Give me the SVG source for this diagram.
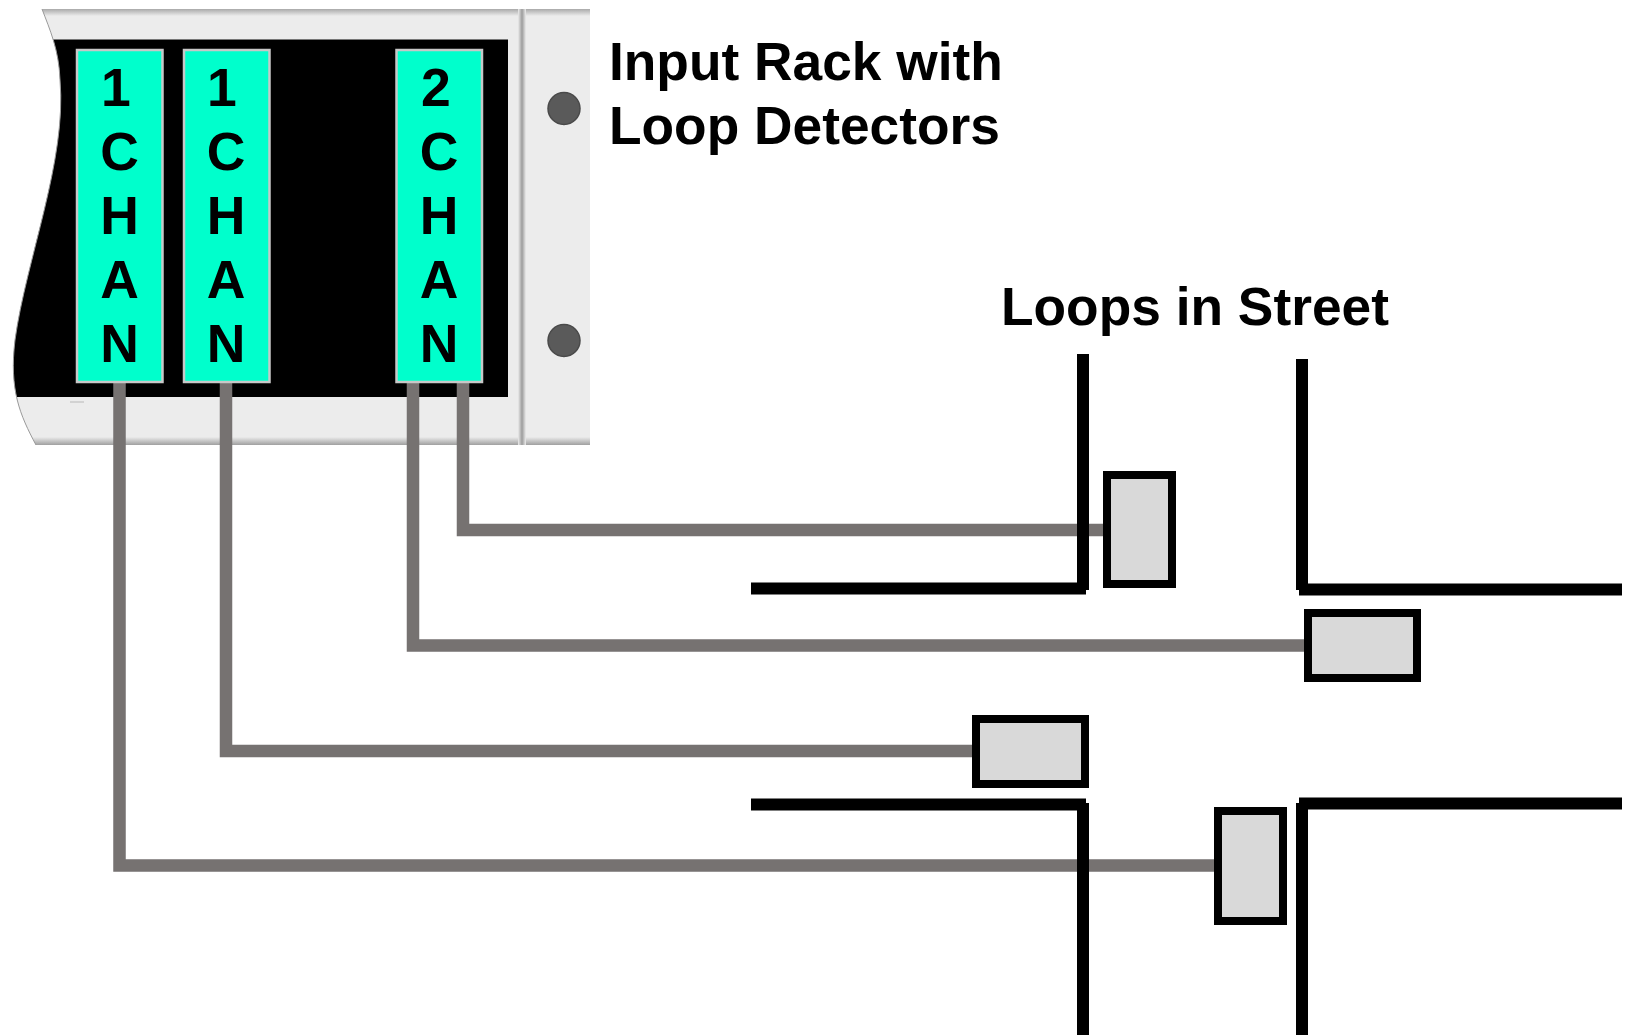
<svg xmlns="http://www.w3.org/2000/svg" width="1628" height="1035" viewBox="0 0 1628 1035">
<style>
.mod{fill:#00ffcc;stroke:#c8c8c8;stroke-width:2.500}
.mt{font:bold 53.500px "Liberation Sans",Arial,sans-serif;fill:#000;text-anchor:middle}
.lab{font:bold 53.300px "Liberation Sans",Arial,sans-serif;fill:#000}
.wire{fill:none;stroke:#767271;stroke-width:12.500}
.street{fill:none;stroke:#000;stroke-width:12}
.loop{fill:#d9d9d9;stroke:#000;stroke-width:8}
.screw{fill:#5a5a5a;stroke:#4a4a4a;stroke-width:1.500}
</style>
<defs>
<clipPath id="rackclip"><path d="M42,9 C50,30 59,50 60,80 C67,160 26,260 15,340 C9,390 20,415 36,445 L590,445 L590,9 Z"/></clipPath>
<linearGradient id="band" x1="0" y1="0" x2="0" y2="1"><stop offset="0" stop-color="#a0a0a0"/><stop offset="1" stop-color="#ececec"/></linearGradient>
<linearGradient id="bandb" x1="0" y1="1" x2="0" y2="0"><stop offset="0" stop-color="#a0a0a0"/><stop offset="1" stop-color="#ececec"/></linearGradient>
<linearGradient id="div" x1="0" y1="0" x2="1" y2="0"><stop offset="0" stop-color="#ececec"/><stop offset="0.500" stop-color="#9c9c9c"/><stop offset="1" stop-color="#ececec"/></linearGradient>
</defs>
<rect width="1628" height="1035" fill="#fff"/>
<g id="rack">
<g clip-path="url(#rackclip)">
<rect x="0" y="9" width="590" height="436" fill="#ececec"/>
<rect x="0" y="8" width="590" height="8" fill="url(#band)"/>
<rect x="0" y="437" width="590" height="8" fill="url(#bandb)"/>
<rect x="0" y="39.500" width="508" height="357.500" fill="#000"/>
<rect x="70" y="401" width="14" height="2" fill="#d2d2d2"/>
</g>
<path d="M42,9 C50,30 59,50 60,80 C67,160 26,260 15,340 C9,390 20,415 36,445" fill="none" stroke="#9a9a9a" stroke-width="1"/>
<rect x="518" y="9" width="8" height="436" fill="url(#div)"/>
<ellipse class="screw" cx="564" cy="108.500" rx="16" ry="16"/>
<ellipse class="screw" cx="564" cy="340.500" rx="16" ry="16"/>
</g>
<g id="connectors">
<path class="wire" d="M119.500,382 V865.500 H1216"/>
<path class="wire" d="M226,382 V751 H974"/>
<path class="wire" d="M413,382 V645.500 H1306"/>
<path class="wire" d="M463,382 V530 H1105"/>
</g>
<g id="module1"><rect class="mod" x="77" y="50" width="85.500" height="332"/>
<text class="mt" x="116" y="106">1</text><text class="mt" x="119.500" y="169.500">C</text><text class="mt" x="119.500" y="233.500">H</text><text class="mt" x="119.500" y="297.500">A</text><text class="mt" x="119.500" y="361.500">N</text></g>
<g id="module2"><rect class="mod" x="184" y="50" width="85.500" height="332"/>
<text class="mt" x="222" y="106">1</text><text class="mt" x="226" y="169.500">C</text><text class="mt" x="226" y="233.500">H</text><text class="mt" x="226" y="297.500">A</text><text class="mt" x="226" y="361.500">N</text></g>
<g id="module3"><rect class="mod" x="396.500" y="50" width="85.500" height="332"/>
<text class="mt" x="436" y="106">2</text><text class="mt" x="439" y="169.500">C</text><text class="mt" x="439" y="233.500">H</text><text class="mt" x="439" y="297.500">A</text><text class="mt" x="439" y="361.500">N</text></g>
<g id="label-rack"><text class="lab" x="609" y="80">Input Rack with</text><text class="lab" x="609" y="143.500">Loop Detectors</text></g>
<g id="label-street"><text class="lab" x="1001" y="325">Loops in Street</text></g>
<g id="street">
<path class="street" d="M1083,354 V590"/>
<path class="street" d="M751,588.500 H1086"/>
<path class="street" d="M1302,359 V590"/>
<path class="street" d="M1299,589.500 H1622"/>
<path class="street" d="M1083,803 V1035"/>
<path class="street" d="M751,804.500 H1086"/>
<path class="street" d="M1302,803 V1035"/>
<path class="street" d="M1299,803.500 H1622"/>
</g>
<g id="loop1"><rect class="loop" x="1107" y="475" width="65" height="109"/></g>
<g id="loop2"><rect class="loop" x="1308" y="613" width="109" height="65"/></g>
<g id="loop3"><rect class="loop" x="976" y="719" width="109" height="65"/></g>
<g id="loop4"><rect class="loop" x="1218" y="811" width="65" height="110"/></g>
</svg>
